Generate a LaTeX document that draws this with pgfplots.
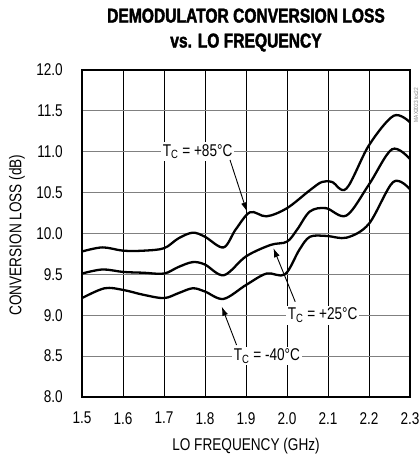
\documentclass[border=0pt]{standalone}
\usepackage{fontspec}
\setmainfont{Liberation Sans}[FakeStretch=0.8]
\newfontfamily\titlefont{Liberation Sans Bold}[FakeStretch=0.78, FakeBold=2]
\usepackage{pgfplots}
\pgfplotsset{compat=1.18}
\usetikzlibrary{arrows.meta}

\newcommand{\lbl}{\fontsize{17bp}{20bp}\selectfont}

\begin{document}
\begin{tikzpicture}
\path[use as bounding box] (-82bp,-60bp) rectangle (338bp,397bp);
\begin{axis}[
  at={(0,0)}, anchor=south west,
  scale only axis,
  width=328bp, height=327bp,
  xmin=1.5, xmax=2.3, ymin=8, ymax=12,
  xtick={1.5,1.6,...,2.3}, ytick={8,8.5,...,12},
  major tick length=0pt,
  grid=major,
  x grid style={black, line width=0.7bp},
  y grid style={gray, line width=1.1bp},
  axis line style={black, line width=2.2bp},
  /pgf/number format/assume math mode=true,
  xticklabel style={/pgf/number format/.cd, fixed, fixed zerofill, precision=1, /tikz/.cd,
    font=\lbl, anchor=north, inner sep=0pt, yshift=-15bp},
  yticklabel style={/pgf/number format/.cd, fixed, fixed zerofill, precision=1, /tikz/.cd,
    font=\lbl, anchor=east, inner sep=0pt, xshift=-19bp},
]
% T_C = +85 C
\addplot[black, line width=2.3bp, smooth, tension=0.55] coordinates {
 (1.50,9.78) (1.55,9.83) (1.60,9.79) (1.65,9.79) (1.70,9.82) (1.735,9.94)
 (1.77,10.01) (1.80,9.96) (1.845,9.83) (1.875,10.05) (1.91,10.26) (1.95,10.21)
 (2.00,10.31) (2.056,10.53) (2.085,10.63) (2.11,10.63) (2.145,10.55) (2.20,11.08)
 (2.26,11.44) (2.30,11.36)};
% T_C = +25 C
\addplot[black, line width=2.3bp, smooth, tension=0.55] coordinates {
 (1.50,9.51) (1.55,9.56) (1.60,9.53) (1.65,9.52) (1.70,9.51) (1.735,9.59)
 (1.77,9.65) (1.80,9.62) (1.846,9.49) (1.90,9.72) (1.96,9.86) (2.00,9.90)
 (2.025,10.05) (2.056,10.27) (2.095,10.31) (2.145,10.22) (2.20,10.60)
 (2.256,11.03) (2.30,10.91)};
% T_C = -40 C
\addplot[black, line width=2.3bp, smooth, tension=0.55] coordinates {
 (1.50,9.21) (1.555,9.33) (1.60,9.31) (1.65,9.25) (1.70,9.21) (1.735,9.27)
 (1.77,9.33) (1.80,9.29) (1.845,9.20) (1.90,9.37) (1.95,9.51) (1.995,9.50)
 (2.03,9.80) (2.056,9.96) (2.097,9.97) (2.146,9.95) (2.20,10.12)
 (2.259,10.63) (2.30,10.54)};

\node[fill=white, inner sep=2bp, font=\lbl] at (axis cs:1.782,11.0) {T\textsubscript{C} = +85°C};
\node[fill=white, inner sep=2bp, font=\lbl] at (axis cs:2.087,9.0) {T\textsubscript{C} = +25°C};
\node[fill=white, inner sep=2bp, font=\lbl] at (axis cs:1.951,8.5) {T\textsubscript{C} = -40°C};
\draw[line width=0.9bp, -{Latex[length=9bp, width=6bp]}] (axis cs:1.861,10.90) -- (axis cs:1.902,10.27);
\draw[line width=0.9bp, -{Latex[length=9bp, width=6bp]}] (axis cs:2.02,9.166) -- (axis cs:1.967,9.82);
\draw[line width=0.9bp, -{Latex[length=9bp, width=6bp]}] (axis cs:1.877,8.636) -- (axis cs:1.841,9.105);
\end{axis}
\node[font=\titlefont\fontsize{20bp}{25bp}\selectfont, align=center] at (164bp,367bp)
  {DEMODULATOR CONVERSION LOSS\\vs. LO FREQUENCY};
\node[font=\lbl] at (164bp,-49bp) {LO FREQUENCY (GHz)};
\node[font=\lbl, rotate=90] at (-65bp,162bp) {CONVERSION LOSS (dB)};
\node[font=\fontsize{6bp}{7bp}\selectfont, text=gray, rotate=90] at (334bp,292bp) {MAX2023 toc22};
\end{tikzpicture}
\end{document}
